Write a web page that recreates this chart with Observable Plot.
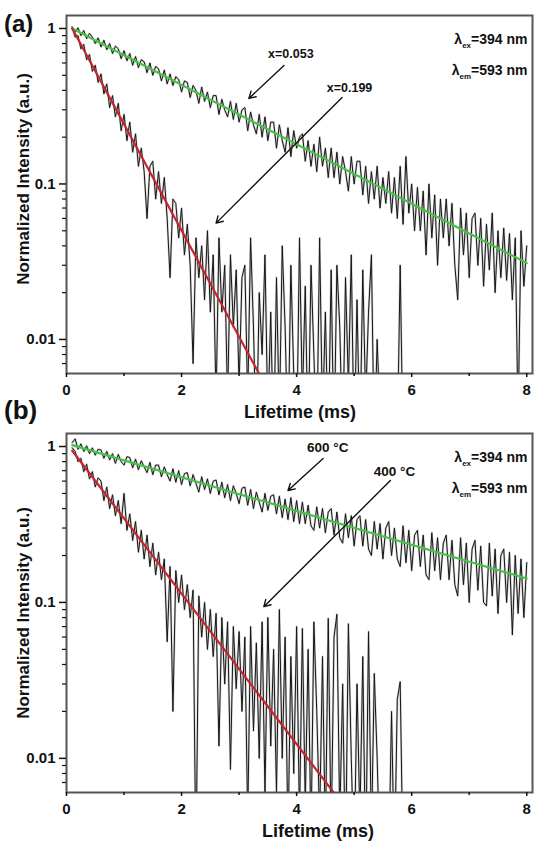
<!DOCTYPE html>
<html><head><meta charset="utf-8">
<script src="https://cdn.jsdelivr.net/npm/d3@7"></script>
<script src="https://cdn.jsdelivr.net/npm/@observablehq/plot@0.6"></script>
<style>
body{margin:0;background:#fff;}
#wrap{position:relative;width:536px;height:842px;font-family:"Liberation Sans",Arial,sans-serif;font-weight:bold;color:#111;overflow:hidden;}
.panel{position:absolute;left:0;}
.lab{position:absolute;white-space:nowrap;line-height:1;}
.rot{transform:translate(-50%,-50%) rotate(-90deg);}
.cen{transform:translate(-50%,-50%);}
</style></head><body><div id="wrap"></div>
<script>
// Sampling times (ms)
const times = [
0.10,0.15,0.20,0.25,0.30,0.35,0.40,0.45,0.50,0.55,
0.60,0.65,0.70,0.75,0.80,0.85,0.90,0.95,1.00,1.05,
1.10,1.15,1.20,1.25,1.30,1.35,1.40,1.45,1.50,1.55,
1.60,1.65,1.70,1.75,1.80,1.85,1.90,1.95,2.00,2.05,
2.10,2.15,2.20,2.25,2.30,2.35,2.40,2.45,2.50,2.55,
2.60,2.65,2.70,2.75,2.80,2.85,2.90,2.95,3.00,3.05,
3.10,3.15,3.20,3.25,3.30,3.35,3.40,3.45,3.50,3.55,
3.60,3.65,3.70,3.75,3.80,3.85,3.90,3.95,4.00,4.05,
4.10,4.15,4.20,4.25,4.30,4.35,4.40,4.45,4.50,4.55,
4.60,4.65,4.70,4.75,4.80,4.85,4.90,4.95,5.00,5.05,
5.10,5.15,5.20,5.25,5.30,5.35,5.40,5.45,5.50,5.55,
5.60,5.65,5.70,5.75,5.80,5.85,5.90,5.95,6.00,6.05,
6.10,6.15,6.20,6.25,6.30,6.35,6.40,6.45,6.50,6.55,
6.60,6.65,6.70,6.75,6.80,6.85,6.90,6.95,7.00,7.05,
7.10,7.15,7.20,7.25,7.30,7.35,7.40,7.45,7.50,7.55,
7.60,7.65,7.70,7.75,7.80,7.85,7.90,7.95,8.00];

// (a) x=0.053
const greenA = [
1.02,0.95,1.01,0.90,0.97,0.86,0.93,0.88,0.80,0.87,
0.76,0.84,0.73,0.80,0.69,0.77,0.74,0.64,0.72,0.62,
0.69,0.58,0.66,0.56,0.63,0.61,0.52,0.60,0.50,0.57,
0.55,0.46,0.54,0.44,0.51,0.43,0.49,0.47,0.39,0.46,
0.45,0.36,0.43,0.40,0.33,0.42,0.34,0.39,0.31,0.37,
0.37,0.28,0.35,0.30,0.27,0.34,0.26,0.33,0.25,0.30,
0.31,0.22,0.29,0.24,0.21,0.28,0.20,0.27,0.19,0.25,
0.25,0.17,0.24,0.19,0.16,0.23,0.15,0.22,0.17,0.20,
0.21,0.14,0.19,0.13,0.18,0.12,0.20,0.13,0.17,0.11,
0.17,0.11,0.16,0.10,0.15,0.12,0.09,0.15,0.10,0.14,
0.14,0.085,0.13,0.075,0.12,0.08,0.13,0.07,0.11,0.075,
0.12,0.065,0.11,0.06,0.13,0.055,0.15,0.065,0.10,0.05,
0.095,0.05,0.09,0.035,0.10,0.045,0.085,0.03,0.08,0.045,
0.08,0.04,0.075,0.03,0.018,0.07,0.035,0.065,0.025,0.06,
0.065,0.03,0.06,0.022,0.055,0.028,0.065,0.02,0.05,0.025,
0.052,0.024,0.048,0.018,0.045,0.003,0.05,0.022,0.04];

// (a) x=0.199
const redA = [
1.02,0.88,0.90,0.74,0.79,0.63,0.68,0.53,0.58,0.45,
0.51,0.38,0.44,0.31,0.37,0.27,0.33,0.22,0.28,0.19,
0.25,0.16,0.21,0.13,0.17,0.12,0.06,0.13,0.14,0.08,
0.12,0.075,0.11,0.06,0.025,0.08,0.075,0.045,0.07,0.035,
0.055,0.030,0.007,0.045,0.025,0.04,0.018,0.05,0.015,0.035,
0.004,0.045,0.015,0.03,0.004,0.035,0.012,0.028,0.005,0.025,
0.03,0.004,0.045,0.012,0.002,0.02,0.008,0.035,0.003,0.015,
0.002,0.025,0.003,0.04,0.012,0.002,0.03,0.006,0.002,0.045,
0.004,0.022,0.002,0.03,0.008,0.002,0.045,0.003,0.015,0.002,
0.028,0.002,0.03,0.012,0.002,0.025,0.005,0.035,0.002,0.018,
0.002,0.028,0.004,0.015,0.035,0.002,0.01,0.003,0.002,0.002,
0.002,0.002,0.002,0.002,0.03,0.002,0.002];

// (b) 600 °C
const greenB = [
1.06,1.12,0.96,1.04,0.93,1.01,0.90,0.98,0.88,0.96,
0.95,0.84,0.93,0.82,0.90,0.78,0.89,0.80,0.76,0.86,
0.85,0.73,0.83,0.71,0.81,0.74,0.68,0.79,0.66,0.76,
0.76,0.64,0.74,0.66,0.60,0.72,0.59,0.70,0.57,0.67,
0.68,0.56,0.66,0.58,0.51,0.64,0.53,0.62,0.50,0.60,
0.61,0.49,0.59,0.47,0.57,0.45,0.56,0.50,0.43,0.54,
0.55,0.42,0.53,0.40,0.51,0.44,0.38,0.50,0.39,0.48,
0.49,0.37,0.48,0.35,0.46,0.34,0.47,0.33,0.45,0.32,
0.44,0.32,0.42,0.31,0.29,0.41,0.30,0.40,0.28,0.38,
0.40,0.27,0.38,0.26,0.24,0.37,0.26,0.36,0.23,0.34,
0.36,0.23,0.34,0.22,0.20,0.33,0.22,0.32,0.19,0.30,
0.33,0.20,0.30,0.19,0.17,0.31,0.18,0.29,0.16,0.27,
0.29,0.17,0.27,0.15,0.14,0.28,0.16,0.26,0.14,0.24,
0.27,0.14,0.25,0.13,0.11,0.26,0.13,0.24,0.10,0.22,
0.25,0.12,0.23,0.10,0.095,0.24,0.11,0.22,0.085,0.20,
0.22,0.10,0.21,0.062,0.20,0.085,0.19,0.08,0.18];

// (b) 400 °C
const redB = [
0.98,0.93,0.80,0.84,0.69,0.77,0.62,0.69,0.55,0.63,
0.60,0.45,0.55,0.40,0.49,0.36,0.45,0.32,0.50,0.29,
0.37,0.25,0.33,0.21,0.29,0.19,0.27,0.17,0.24,0.15,
0.21,0.14,0.19,0.056,0.17,0.02,0.16,0.10,0.15,0.09,
0.13,0.08,0.12,0.002,0.11,0.06,0.10,0.05,0.09,0.045,
0.085,0.012,0.08,0.03,0.075,0.0085,0.07,0.028,0.065,0.02,
0.06,0.004,0.07,0.015,0.055,0.01,0.075,0.006,0.08,0.012,
0.05,0.006,0.09,0.01,0.06,0.003,0.045,0.008,0.07,0.004,
0.068,0.005,0.05,0.003,0.075,0.02,0.004,0.045,0.003,0.079,
0.003,0.06,0.084,0.004,0.03,0.002,0.073,0.01,0.002,0.03,
0.004,0.045,0.002,0.065,0.003,0.035,0.01,0.002,0.002,0.002,
0.002,0.02,0.002,0.024,0.031,0.002];

// Exponential fit lines (end points)
const fitGreenA = [[0.1, 1.0], [8.0, 0.031]];
const fitRedA   = [[0.1, 1.0], [3.35, 0.006]];
const fitGreenB = [[0.1, 1.02], [8.0, 0.1425]];
const fitRedB   = [[0.1, 0.94], [4.65, 0.006]];

// Ticks
const xMajor = [0, 2, 4, 6, 8];
const xMinor = [1, 3, 5, 7];
const yMajor = [1, 0.1, 0.01];
const yMinor = [0.007,0.008,0.009,0.02,0.03,0.04,0.05,0.06,0.07,0.08,0.09,0.2,0.3,0.4,0.5,0.6,0.7,0.8,0.9];

// Annotations
const notesA = [{t:3.9, v:0.69, text:"x=0.053"}, {t:4.92, v:0.417, text:"x=0.199"}];
const arrowsA = [{t1:3.78, v1:0.578, t2:3.17, v2:0.355}, {t1:4.79, v1:0.36, t2:2.6, v2:0.056}];
const notesB = [{t:4.54, v:0.985, text:"600 °C"}, {t:5.70, v:0.69, text:"400 °C"}];
const arrowsB = [{t1:4.46, v1:0.838, t2:3.85, v2:0.522}, {t1:5.63, v1:0.605, t2:3.43, v2:0.094}];
const lambdaLines = ["λex=394 nm", "λem=593 nm"];

const series = arr => arr.map((v, i) => ({t: times[i], v}));
const fit = pts => pts.map(([t, v]) => ({t, v}));

function traceMarks(arr) {
  const d = series(arr);
  return [
    Plot.line(d, {x: "t", y: "v", stroke: "#666", strokeWidth: 2.2, strokeOpacity: 0.3, clip: true}),
    Plot.line(d, {x: "t", y: "v", stroke: "#161616", strokeWidth: 1.0, clip: true})
  ];
}

function makePanel(o) {
  const svg = Plot.plot({
    width: 536, height: o.height,
    marginTop: o.mt, marginBottom: o.mb, marginLeft: 66, marginRight: 4,
    style: {fontFamily: "'Liberation Sans', Arial, sans-serif", fontWeight: "bold", color: "#111", background: "transparent", overflow: "visible"},
    x: {domain: [0, 8.1]},
    y: {type: "log", domain: [0.00604, 1.212]},
    marks: [
      ...traceMarks(o.green),
      ...traceMarks(o.red),
      Plot.line(fit(o.fitGreen), {x: "t", y: "v", stroke: "#46c346", strokeWidth: 2.2, clip: true}),
      Plot.line(fit(o.fitRed), {x: "t", y: "v", stroke: "#c4262e", strokeWidth: 2.2, clip: true}),
      Plot.arrow(o.arrows, {x1: "t1", y1: "v1", x2: "t2", y2: "v2", stroke: "#111", strokeWidth: 1.4, headLength: 8}),
      Plot.text(o.notes, {x: "t", y: "v", text: "text", fontSize: o.noteSize, fontWeight: "bold", fill: "#111"}),
      Plot.text([lambdaLines[0]], {frameAnchor: "top-right", dx: -5, dy: 19, textAnchor: "end", fontSize: 14, fontWeight: "bold", fill: "#111"}),
      Plot.text([lambdaLines[1]], {frameAnchor: "top-right", dx: -5, dy: 50, textAnchor: "end", fontSize: 14, fontWeight: "bold", fill: "#111"}),
      Plot.frame({stroke: "#555", strokeWidth: 2}),
      Plot.axisX(xMajor, {tickSize: 4, tickPadding: 7, fontSize: 15, label: null, strokeWidth: 1.5}),
      Plot.axisX(xMinor, {tickSize: 3, text: null, label: null, strokeWidth: 1.5}),
      Plot.axisY(yMajor, {tickSize: 7, tickPadding: 4, fontSize: 15, label: null, tickFormat: d => String(d), strokeWidth: 1.5}),
      Plot.axisY(yMinor, {tickSize: 4, text: null, label: null, strokeWidth: 1.2})
    ]
  });
  d3.select(svg).selectAll("text").each(function() {
    const m = this.textContent.match(/^λ(ex|em)(=.*)$/);
    if (m) {
      const el = d3.select(this);
      el.text("");
      el.append("tspan").text("λ");
      el.append("tspan").attr("font-size", 8).attr("dy", 4).text(m[1]);
      el.append("tspan").attr("dy", -4).text(m[2]);
    }
  });
  svg.classList.add("panel");
  svg.style.top = o.top + "px";
  return svg;
}

const wrap = document.getElementById("wrap");
wrap.appendChild(makePanel({top: 0, height: 420, mt: 15, mb: 47, green: greenA, red: redA,
  fitGreen: fitGreenA, fitRed: fitRedA, arrows: arrowsA, notes: notesA, noteSize: 12.5}));
wrap.appendChild(makePanel({top: 420, height: 422, mt: 13, mb: 50, green: greenB, red: redB,
  fitGreen: fitGreenB, fitRed: fitRedB, arrows: arrowsB, notes: notesB, noteSize: 13.5}));

function label(text, x, y, size, cls) {
  const d = document.createElement("div");
  d.className = "lab " + cls;
  d.style.left = x + "px"; d.style.top = y + "px"; d.style.fontSize = size + "px";
  d.textContent = text;
  wrap.appendChild(d);
}
label("(a)", 4, 12, 24, "");
label("(b)", 4, 397, 26, "");
label("Normalized Intensity (a.u.)", 23, 179, 17, "rot");
label("Normalized Intensity (a.u.)", 23, 613, 17, "rot");
label("Lifetime (ms)", 300, 412, 18, "cen");
label("Lifetime (ms)", 318, 831, 18, "cen");
</script></body></html>
